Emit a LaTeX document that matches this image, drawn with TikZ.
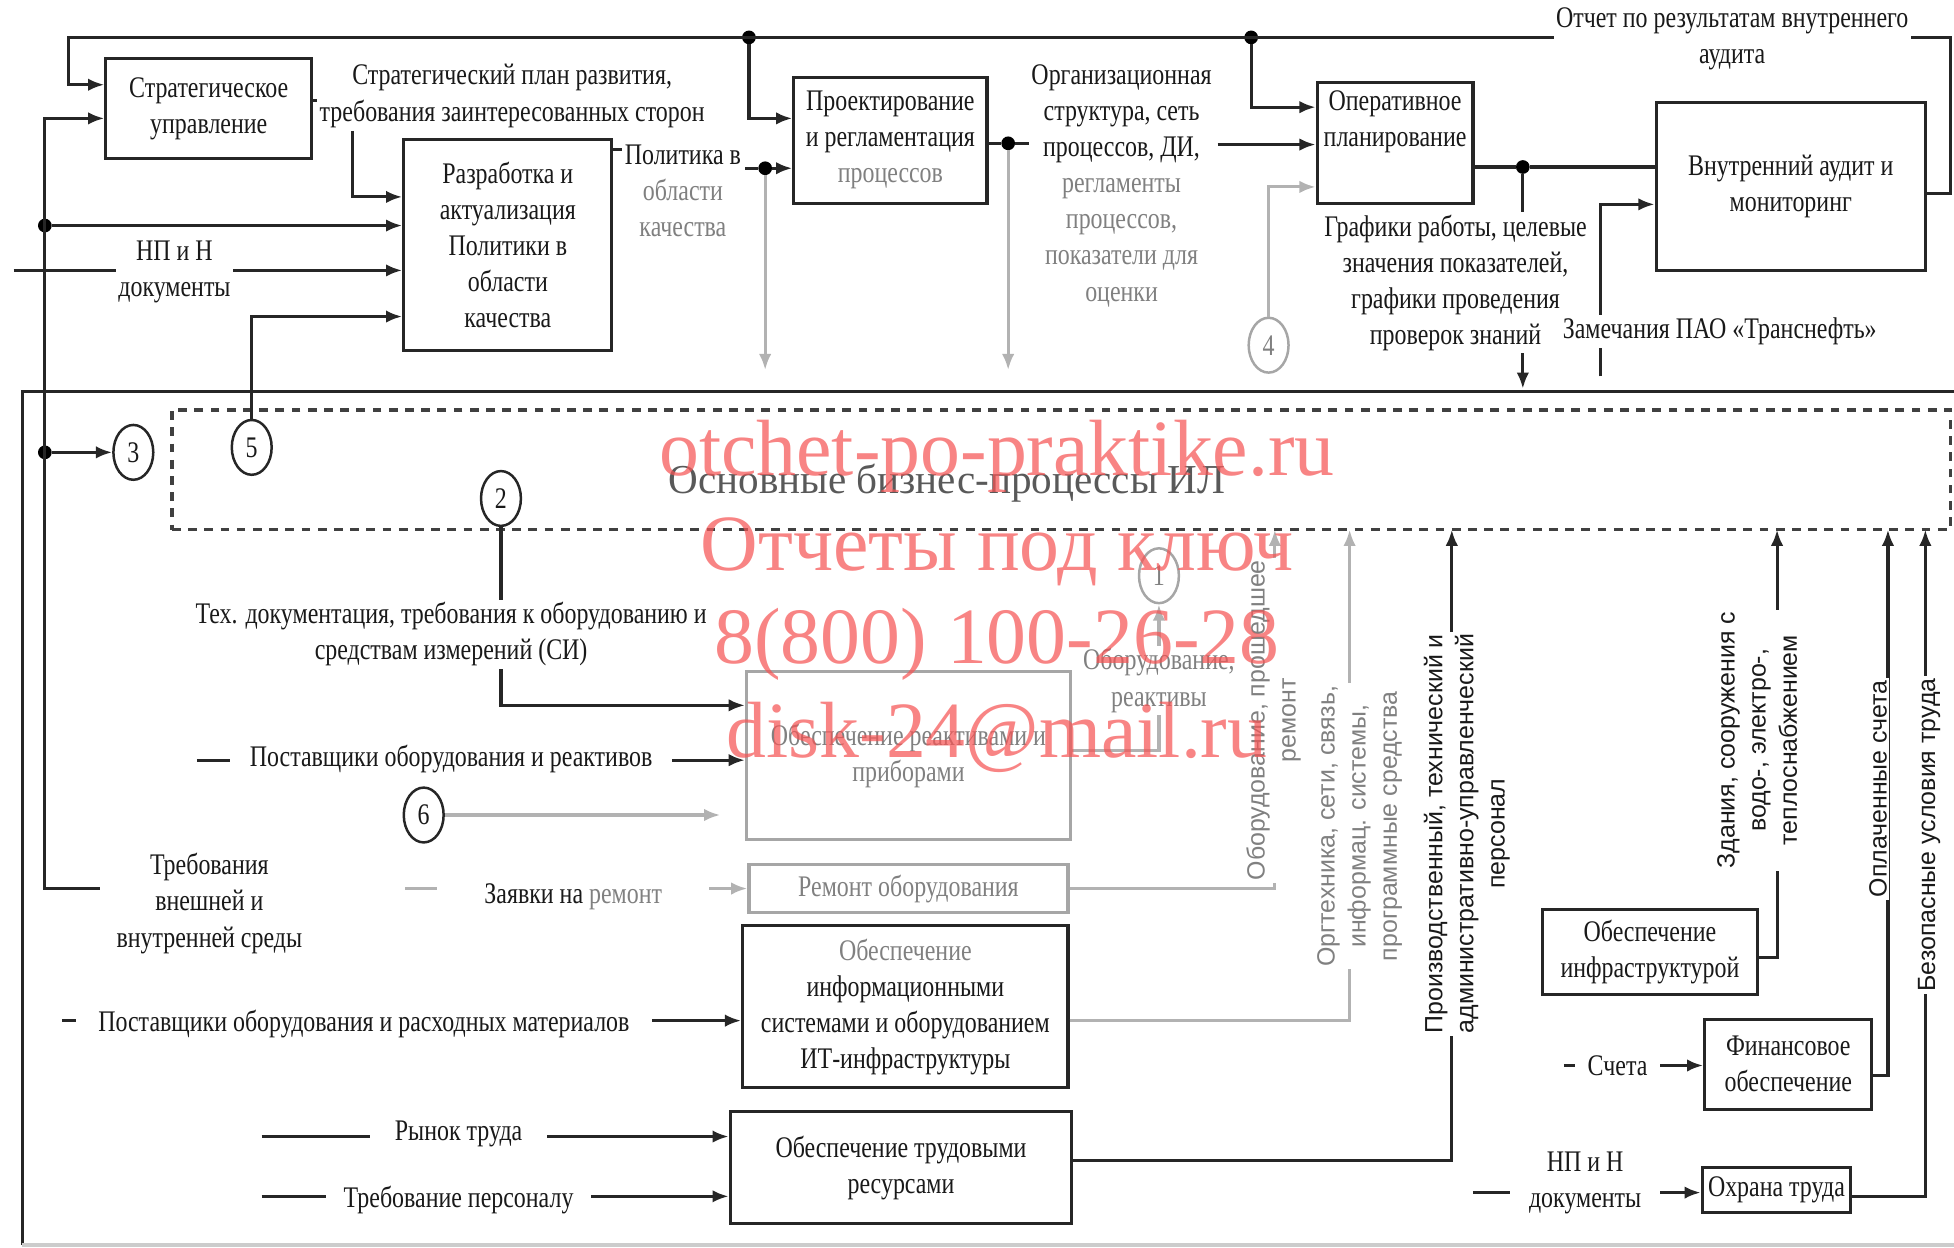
\documentclass[tikz,border=0pt]{standalone}
\usepackage{fontspec}
\setmainfont{Liberation Serif}[FakeStretch=0.8]
\newfontfamily\wmfont{Liberation Serif}
\newfontfamily\rotfont{Liberation Sans}
\usetikzlibrary{arrows.meta,shapes.geometric}
\definecolor{wmred}{RGB}{245,85,85}
\begin{document}
\begin{tikzpicture}[x=1pt,y=-1pt,
  every node/.style={font=\fontsize{24}{29}\selectfont, text=black!90, align=center},
  box/.style={draw=black!85, line width=2.5pt, inner sep=2pt},
  gbox/.style={box, draw=gray!70},
  lab/.style={fill=white, inner sep=2pt},
  rot/.style={rotate=90, fill=white, inner sep=2pt, font=\rotfont\fontsize{20}{25}\selectfont},
  ln/.style={line width=2.5pt, draw=black!85},
  arr/.style={ln, -{Latex[length=13pt,width=10pt]}},
  garr/.style={arr, draw=gray!60},
  dot/.style={circle, fill=black, inner sep=0pt, minimum size=11pt},
  num/.style={ellipse, draw=black!85, line width=2pt, minimum width=32pt, minimum height=44pt, inner sep=0pt},
  wm/.style={font=\wmfont\fontsize{64}{70}\selectfont, text=wmred, opacity=0.72}
]
\useasboundingbox (0,0) rectangle (1568,1001);

% frame and core
\draw[ln] (18,999) -- (18,314) -- (1568,314);
\draw[ln, draw=gray!40] (18,999) -- (1568,999);
\node[draw=black!75, line width=2.5pt, dash pattern=on 7pt off 6pt, minimum width=1427pt, minimum height=96pt] (core) at (851.5,377) {};
\node[font=\wmfont\fontsize{33}{36}\selectfont, text=gray!70!black] (coretxt) at (760,388) {Основные бизнес-процессы ИЛ};

% boxes
\node[box, minimum width=165pt, minimum height=80pt] (strat) at (167.5,87) {Стратегическое\\управление};
\node[box, minimum width=167pt, minimum height=169pt] (policy) at (407.5,196.5) {Разработка и\\актуализация\\Политики в\\области\\качества};
\node[box, minimum width=155pt, minimum height=101pt] (proc) at (714.5,112.5) {Проектирование\\и регламентация\\\textcolor{gray}{процессов}};
\node[box, minimum width=125pt, minimum height=97pt] (oper) at (1119.5,114.5) {};
\node (opertxt) at (1119.5,98) {Оперативное\\планирование};
\node[box, minimum width=216pt, minimum height=135pt] (audit) at (1437,149.5) {Внутренний аудит и\\мониторинг};
\node[gbox, minimum width=260pt, minimum height=135pt] (equip) at (729,606.5) {\textcolor{gray}{Обеспечение реактивами и}\\\textcolor{gray}{приборами}};
\node[gbox, minimum width=256pt, minimum height=38pt] (repair) at (729,713) {\textcolor{gray}{Ремонт оборудования}};
\node[box, minimum width=261pt, minimum height=130pt] (it) at (726.5,808) {\textcolor{gray}{Обеспечение}\\информационными\\системами и оборудованием\\ИТ-инфраструктуры};
\node[box, minimum width=274pt, minimum height=90pt] (labor) at (723,937) {Обеспечение трудовыми\\ресурсами};
\node[box, minimum width=172pt, minimum height=68pt] (infra) at (1324,764) {Обеспечение\\инфраструктурой};
\node[box, minimum width=134pt, minimum height=72pt] (fin) at (1435,854) {Финансовое\\обеспечение};
\node[box, minimum width=119pt, minimum height=36pt] (ohr) at (1425.5,955) {Охрана труда};

% dots
\node[dot] (d1) at (36,181) {};
\node[dot] (d2) at (36,363) {};
\node[dot] (d3) at (601,30) {};
\node[dot] (d4) at (1004,30) {};
\node[dot] (d5) at (614,135) {};
\node[dot] (d6) at (809,115) {};
\node[dot] (d7) at (1222,134) {};

% numbered circles
\node[num] (c3) at (107,363) {3};
\node[num] (c5) at (202,359) {5};
\node[num] (c2) at (402,400) {2};
\node[num] (c6) at (340,654) {6};
\node[num, draw=gray!70, text=gray] (c4) at (1018,277) {4};
\node[num, draw=gray!70, text=gray] (c1) at (930,462) {1};

% free ends
\coordinate (s0) at (262,81);
\coordinate (s1) at (283,105);
\coordinate (t1) at (80,713);
\coordinate (n0) at (11,217);
\coordinate (p0) at (500,120);
\coordinate (p1) at (598,135);
\coordinate (g1) at (614,297);
\coordinate (o0) at (835,115);
\coordinate (g2) at (809,297);
\coordinate (o1) at (977,116);
\coordinate (g3) at (1222,312);
\coordinate (z0) at (1284,302);
\coordinate (q0) at (158,610);
\coordinate (q1) at (578,654);
\coordinate (r0) at (325,713);
\coordinate (u0) at (50,819);
\coordinate (v0) at (210,912);
\coordinate (v1) at (210,960);
\coordinate (w0) at (1255,855);
\coordinate (w1) at (1182,957);
\coordinate (k1) at (1023,425);
\coordinate (k2) at (1083,425);
\coordinate (k3) at (1165,425);
\coordinate (k4) at (1426,425);
\coordinate (k5) at (1515,425);
\coordinate (k6) at (1545,425);

% connectors
\draw[arr] ([yshift=-5.5pt]audit.east) -- (1565,155) -- (1565,30) -- (55,30) -- (55,68) -- ([yshift=19pt]strat.west);
\draw[arr] (d3) |- ([yshift=17.5pt]proc.west);
\draw[arr] (d4) |- ([yshift=28.5pt]oper.west);
\draw[ln] ([yshift=6pt]strat.east) -- (s0);
\draw[arr] (s1) |- ([yshift=38.5pt]policy.west);
\draw[arr] (d1) -- ([yshift=15.5pt]policy.west);
\draw[arr] (t1) -| (36,95) -- ([yshift=-8pt]strat.west);
\draw[arr] (d2) -- (c3);
\draw[arr] (n0) -- ([yshift=-20.5pt]policy.west);
\draw[arr] (c5) |- ([yshift=-57.5pt]policy.west);
\draw[ln] ([yshift=76.5pt]policy.east) -- (p0);
\draw[ln] (p1) -- (d5);
\draw[arr] (d5) -- ([yshift=-22.5pt]proc.west);
\draw[garr] (d5) -- (g1);
\draw[ln] ([yshift=-2.5pt]proc.east) -- (d6) -- (o0);
\draw[garr] (d6) -- (g2);
\draw[arr] (o1) -- ([yshift=-1.5pt]oper.west);
\draw[garr] (c4) |- ([yshift=-35.5pt]oper.west);
\draw[ln] ([yshift=-19.5pt]oper.east) -- (d7) -- ([yshift=15.5pt]audit.west);
\draw[arr] (d7) -- (g3);
\draw[arr] (z0) |- ([yshift=-14.5pt]audit.west);
\draw[arr] (c2) |- ([yshift=40.5pt]equip.west);
\draw[arr] (q0) -- ([yshift=-3.5pt]equip.west);
\draw[garr] (c6) -- (q1);
\draw[garr] (r0) -- (repair.west);
\draw[garr] (repair.east) -| (k1);
\draw[arr] (u0) -- ([yshift=-11pt]it.west);
\draw[garr] ([yshift=-11pt]it.east) -| (k2);
\draw[arr] (v0) -- ([yshift=25pt]labor.west);
\draw[arr] (v1) -- ([yshift=-23pt]labor.west);
\draw[arr] ([yshift=6pt]labor.east) -| (k3);
\draw[arr] ([yshift=-4pt]infra.east) -| (k4);
\draw[arr] (w0) -- ([yshift=-1pt]fin.west);
\draw[arr] ([yshift=-9pt]fin.east) -| (k5);
\draw[arr] (w1) -- ([yshift=-2pt]ohr.west);
\draw[arr] ([yshift=-5pt]ohr.east) -| (k6);
\draw[garr] ([yshift=4.5pt]equip.east) -| (c1);

% labels
\node[lab] (Lstrat) at (411,77) {Стратегический план развития,\\требования заинтересованных сторон};
\node[lab] (Lpol) at (548,153) {Политика в\\\textcolor{gray}{области}\\\textcolor{gray}{качества}};
\node[lab] (Lorg) at (900,149) {Организационная\\структура, сеть\\процессов, ДИ,\\\textcolor{gray}{регламенты}\\\textcolor{gray}{процессов,}\\\textcolor{gray}{показатели для}\\\textcolor{gray}{оценки}};
\node[lab] (Lgraf) at (1168,227) {Графики работы, целевые\\значения показателей,\\графики проведения\\проверок знаний};
\node[lab] (Lzam) at (1380,266) {Замечания ПАО «Транснефть»};
\node[lab] (Lotch) at (1390,31) {Отчет по результатам внутреннего\\аудита};
\node[lab] (Lnpn) at (140,218) {НП и Н\\документы};
\node[lab] (Ltech) at (362,509) {Тех. документация, требования к оборудованию и\\средствам измерений (СИ)};
\node[lab, inner xsep=16pt] (Lpost1) at (362,609) {Поставщики оборудования и реактивов};
\node[lab, inner xsep=38pt] (Lzayav) at (460,720) {Заявки на \textcolor{gray}{ремонт}};
\node[lab] (Ltreb) at (168,725) {Требования\\внешней и\\внутренней среды};
\node[lab, inner xsep=18pt] (Lpost2) at (292,822) {Поставщики оборудования и расходных материалов};
\node[lab, inner xsep=20pt] (Lrynok) at (368,910) {Рынок труда};
\node[lab, inner xsep=14pt] (Ltrper) at (368,963) {Требование персоналу};
\node[lab] (Loborea) at (930,546) {\textcolor{gray}{Оборудование,}\\\textcolor{gray}{реактивы}};
\node[lab, inner xsep=10pt] (Lscheta) at (1298,855) {Счета};
\node[lab, inner xsep=15pt] (Lnpn2) at (1272,949) {НП и Н\\документы};
\node[rot, text=gray] (Lrem) at (1022,578) {Оборудование, прошедшее\\ремонт};
\node[rot, text=gray] (Litout) at (1091,663) {Оргтехника, сети, связь,\\информац. системы,\\программные средства};
\node[rot] (Lpers) at (1177,669) {Производственный, технический и\\административно-управленческий\\персонал};
\node[rot] (Lzd) at (1410,594) {Здания, сооружения с\\водо-, электро-,\\теплоснабжением};
\node[rot] (Lopl) at (1507,633) {Оплаченные счета};
\node[rot] (Lbez) at (1548,670) {Безопасные условия труда};

% watermark
\node[wm] (wm1) at (800,366) {otchet-po-praktike.ru};
\node[wm] (wm2) at (800,443) {Отчеты под ключ};
\node[wm] (wm3) at (800,517) {8(800) 100-26-28};
\node[wm] (wm4) at (800,592) {disk-24@mail.ru};
\end{tikzpicture}
\end{document}
